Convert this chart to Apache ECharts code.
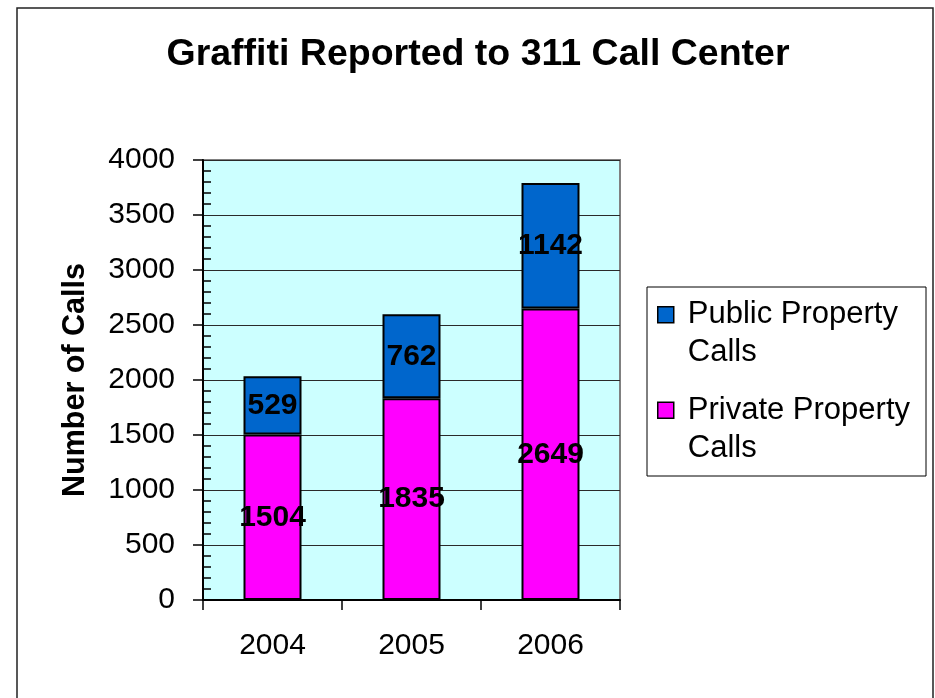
<!DOCTYPE html>
<html>
<head>
<meta charset="utf-8">
<script src="https://cdn.jsdelivr.net/npm/echarts@6/dist/echarts.min.js"></script>
<style>html,body{margin:0;padding:0;background:#fff;}#c{width:935px;height:698px;}</style>
</head>
<body>
<div id="c"></div>
<script>
var categories = ['2004', '2005', '2006'];
var privateCalls = [1504, 1835, 2649];
var publicCalls = [529, 762, 1142];
var seriesNames = ['Public Property Calls', 'Private Property Calls'];
var legendLabels = ['Public Property\nCalls', 'Private Property\nCalls'];
var yTicks = { min: 0, max: 4000, interval: 500 };

var FONT = 'Liberation Sans, Arial, sans-serif';
var chart = echarts.init(document.getElementById('c'), null, { renderer: 'canvas' });
var labelStyle = { show: true, position: 'inside', color: '#000', fontSize: 30, fontWeight: 'bold', fontFamily: FONT };
var legendIcon = 'path://M0,0 M0,11 L16,11 L16,27 L0,27 Z M16,76';

chart.setOption({
  backgroundColor: '#fff',
  animation: false,
  title: {
    text: 'Graffiti Reported to 311 Call Center',
    left: 478, top: 36, padding: 0, textAlign: 'center',
    textStyle: { fontSize: 37.5, fontWeight: 'bold', color: '#000', fontFamily: FONT }
  },
  graphic: [{
    type: 'rect', shape: { x: 17, y: 8, width: 916, height: 720 },
    style: { fill: 'none', stroke: '#222', lineWidth: 1.5 }, z: 100, silent: true
  }],
  legend: {
    left: 647, top: 287, orient: 'vertical',
    padding: [8, 16, 8, 10],
    borderColor: '#000', borderWidth: 1,
    itemWidth: 16, itemHeight: 76, itemGap: 18,
    icon: legendIcon,
    itemStyle: { borderColor: '#000', borderWidth: 1.5 },
    data: seriesNames,
    formatter: function (n) { return legendLabels[seriesNames.indexOf(n)]; },
    textStyle: { fontSize: 31, lineHeight: 38, color: '#000', fontFamily: FONT, padding: [0, 0, 0, 9] }
  },
  grid: {
    left: 203, right: 315, top: 160, bottom: 98,
    show: true, backgroundColor: '#CCFFFF', borderColor: '#808080', borderWidth: 2
  },
  xAxis: {
    type: 'category', data: categories,
    axisLine: { lineStyle: { color: '#000', width: 2 } },
    axisTick: { show: true, length: 10, lineStyle: { color: '#000', width: 1.5 } },
    axisLabel: { margin: 31, fontSize: 30, color: '#000', fontFamily: FONT }
  },
  yAxis: [{
    type: 'value', min: yTicks.min, max: yTicks.max, interval: yTicks.interval,
    name: 'Number of Calls', nameLocation: 'middle', nameRotate: 90, nameGap: 112,
    nameTextStyle: { fontSize: 30.5, fontWeight: 'bold', color: '#000', fontFamily: FONT },
    axisLine: { show: true, lineStyle: { color: '#000', width: 2 } },
    axisTick: { show: true, length: 10, lineStyle: { color: '#000', width: 1.5 } },
    axisLabel: { margin: 28, fontSize: 30, color: '#000', fontFamily: FONT,
      formatter: function (v) { return String(v); } },
    splitLine: { show: true, lineStyle: { color: '#2a2a2a', width: 1 } }
  }, {
    type: 'value', position: 'left', min: yTicks.min, max: yTicks.max, interval: yTicks.interval,
    axisLine: { show: false },
    axisTick: { show: false, inside: true },
    minorTick: { show: true, splitNumber: 5, length: 8, lineStyle: { color: '#000', width: 1.5 } },
    axisLabel: { show: false },
    splitLine: { show: false }
  }],
  series: [{
    name: seriesNames[1], type: 'bar', stack: 'calls', data: privateCalls, barWidth: 58,
    itemStyle: { color: '#FF00FF', borderColor: '#000', borderWidth: 2 },
    label: labelStyle
  }, {
    name: seriesNames[0], type: 'bar', stack: 'calls', data: publicCalls, barWidth: 58,
    itemStyle: { color: '#0066CC', borderColor: '#000', borderWidth: 2 },
    label: labelStyle
  }]
});
</script>
</body>
</html>
